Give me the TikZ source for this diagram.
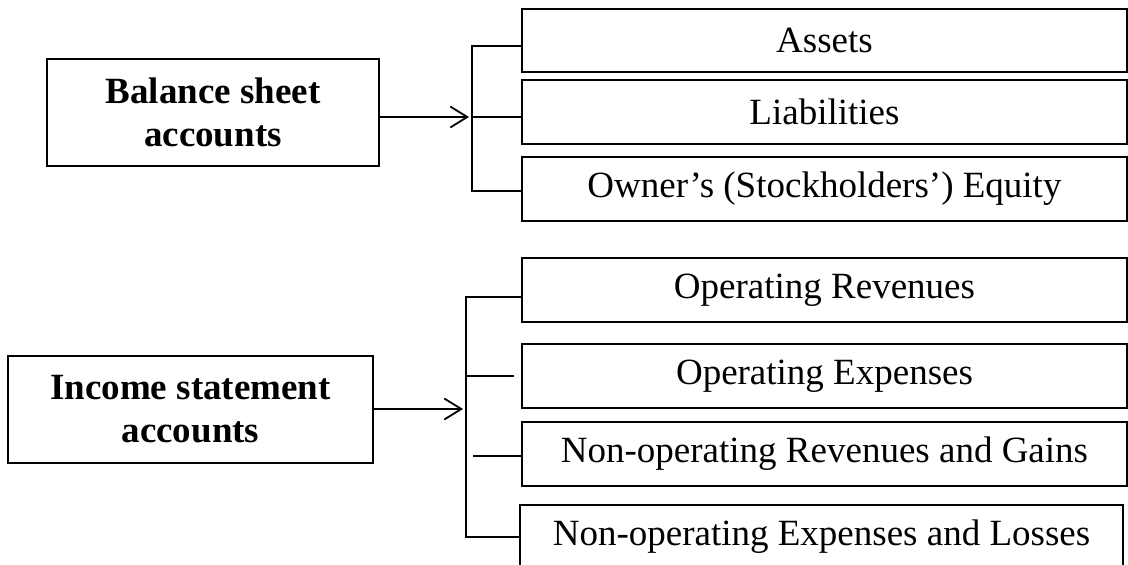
\documentclass[tikz,border=0pt]{standalone}
\usepackage{fontspec}
\setmainfont{Liberation Serif}
\usetikzlibrary{arrows.meta}
\begin{document}
\begin{tikzpicture}[x=1pt,y=-1pt,
  catbox/.style={draw, line width=1.8pt, inner sep=0pt, align=center,
    font=\bfseries\fontsize{37}{43}\selectfont},
  itembox/.style={draw, line width=1.8pt, inner sep=0pt,
    font=\fontsize{37}{43}\selectfont},
  feed/.style={line width=1.8pt, -{Straight Barb[length=17pt,width=21pt,line width=1.8pt]}},
  link/.style={line width=1.8pt}]
\useasboundingbox (0,0) rectangle (1128,565);
\clip (0,0) rectangle (1128,565);

% balance sheet group
\node[catbox, minimum width=332pt, minimum height=107pt] (bal) at (213,112.5)
  {Balance sheet\\accounts};
\node[itembox, minimum width=605pt, minimum height=63pt] (assets) at (824.5,40.5) {Assets};
\node[itembox, minimum width=605pt, minimum height=64pt] (liab) at (824.5,112) {Liabilities};
\node[itembox, minimum width=605pt, minimum height=64pt] (equity) at (824.5,189)
  {Owner’s (Stockholders’) Equity};

\coordinate (bj) at (472,117);
\coordinate (btop) at (472,46);
\coordinate (bbot) at (472,191);
\draw[feed] (bal.east |- bj) -- ([xshift=-3pt]bj);
\draw[link] (assets.west |- btop) -- (btop) -- (bbot) -- (equity.west |- bbot);
\draw[link] (bj) -- (liab.west |- bj);

% income statement group
\node[catbox, minimum width=365pt, minimum height=107pt] (inc) at (190.5,409.5)
  {Income statement\\accounts};
\node[itembox, minimum width=605pt, minimum height=64pt] (oprev) at (824.5,290) {Operating Revenues};
\node[itembox, minimum width=605pt, minimum height=64pt] (opexp) at (824.5,376) {Operating Expenses};
\node[itembox, minimum width=605pt, minimum height=64pt] (nrev) at (824.5,454)
  {Non-operating Revenues and Gains};
\node[itembox, minimum width=603pt, minimum height=64pt] (nexp) at (821.5,537)
  {Non-operating Expenses and Losses};

\coordinate (ij) at (466,409);
\coordinate (itop) at (466,297);
\coordinate (ibot) at (466,537);
\coordinate (i2) at (466,376);
\coordinate (i2end) at (514,376);
\coordinate (i3) at (473,456);
\draw[feed] (inc.east |- ij) -- ([xshift=-3pt]ij);
\draw[link] (oprev.west |- itop) -- (itop) -- (ibot) -- (nexp.west |- ibot);
\draw[link] (i2) -- (i2end);
\draw[link] (i3) -- (nrev.west |- i3);
\end{tikzpicture}
\end{document}
